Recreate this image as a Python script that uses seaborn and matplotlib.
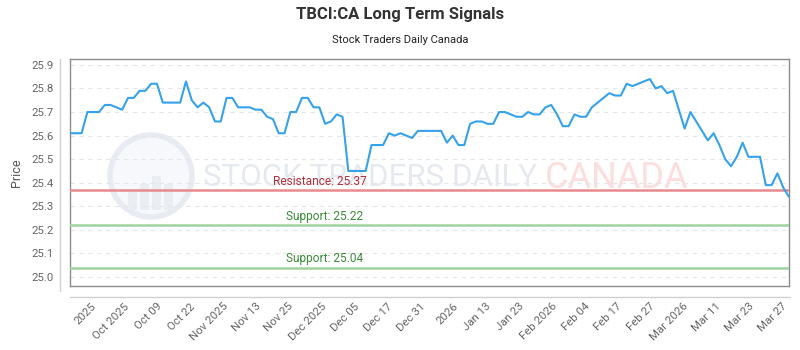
import numpy as np
import pandas as pd
import matplotlib
matplotlib.use("Agg")
import matplotlib.pyplot as plt
import seaborn as sns
from matplotlib import font_manager
from matplotlib.patches import Circle, Rectangle

# ---- data ----
prices = [
    25.61, 25.61, 25.61, 25.70, 25.70, 25.70, 25.73, 25.73, 25.72, 25.71,
    25.76, 25.76, 25.79, 25.79, 25.82, 25.82, 25.74, 25.74, 25.74, 25.74,
    25.83, 25.75, 25.72, 25.74, 25.72, 25.66, 25.66, 25.76, 25.76, 25.72,
    25.72, 25.72, 25.71, 25.71, 25.68, 25.67, 25.61, 25.61, 25.70, 25.70,
    25.76, 25.76, 25.72, 25.72, 25.65, 25.66, 25.69, 25.68, 25.45, 25.45,
    25.45, 25.45, 25.56, 25.56, 25.56, 25.61, 25.60, 25.61, 25.60, 25.59,
    25.62, 25.62, 25.62, 25.62, 25.62, 25.57, 25.60, 25.56, 25.56, 25.65,
    25.66, 25.66, 25.65, 25.65, 25.70, 25.70, 25.69, 25.68, 25.68, 25.70,
    25.69, 25.69, 25.72, 25.73, 25.69, 25.64, 25.64, 25.69, 25.68, 25.68,
    25.72, 25.74, 25.76, 25.78, 25.77, 25.77, 25.82, 25.81, 25.82, 25.83,
    25.84, 25.80, 25.81, 25.78, 25.79, 25.71, 25.63, 25.70, 25.66, 25.62,
    25.58, 25.61, 25.56, 25.50, 25.47, 25.51, 25.57, 25.51, 25.51, 25.51,
    25.39, 25.39, 25.44, 25.38, 25.34,
]
tick_labels = ["2025", "Oct 2025", "Oct 09", "Oct 22", "Nov 2025", "Nov 13",
               "Nov 25", "Dec 2025", "Dec 05", "Dec 17", "Dec 31", "2026",
               "Jan 13", "Jan 23", "Feb 2026", "Feb 04", "Feb 17", "Feb 27",
               "Mar 2026", "Mar 11", "Mar 23", "Mar 27"]
resistance = [25.37]
supports = [25.22, 25.04]
y_ticks = [25.0, 25.1, 25.2, 25.3, 25.4, 25.5, 25.6, 25.7, 25.8, 25.9]

df = pd.DataFrame({"idx": np.arange(len(prices)), "price": prices})

sns.set_theme(style="white")
installed = {f.name for f in font_manager.fontManager.ttflist}
base_font = "Roboto" if "Roboto" in installed else "DejaVu Sans"
plt.rcParams["font.family"] = [base_font, "DejaVu Sans"]

fig = plt.figure(figsize=(8, 3.5), dpi=100)
ax = fig.add_axes([70 / 800, 1 - 286 / 350, 719 / 800, 227 / 350])

n = len(prices)
ax.set_xlim(0, n - 1)
ax.set_ylim(24.962, 25.925)

# watermark
ax.text(0.185, 0.476, "STOCK TRADERS DAILY", transform=ax.transAxes,
        fontsize=22.5, color="#e6eaf0", ha="left", va="center", zorder=0)
ax.text(0.661, 0.476, "CANADA", transform=ax.transAxes,
        fontsize=26, color="#fcdede", ha="left", va="center", zorder=0)
logo = Circle((151, 350 - 176), 41, transform=None, facecolor="#f6f8fb",
              edgecolor="#e8ecf2", linewidth=4, zorder=0)
ax.add_artist(logo)
for bx, bh in [(128, 18), (140, 26), (152, 34), (164, 26)]:
    ax.add_artist(Rectangle((bx, 350 - 210), 9, bh, transform=None,
                            facecolor="#eaeef3", edgecolor="none", zorder=0))

# grid
for yv in y_ticks:
    ax.axhline(yv, color="#e6e6e6", linewidth=0.8, linestyle=(0, (4, 4)), zorder=1)

sns.lineplot(data=df, x="idx", y="price", ax=ax, color="#36a2eb",
             linewidth=1.5, zorder=4)

for r in resistance:
    ax.axhline(r, color="#e88a8e", linewidth=1.8, zorder=3)
    ax.text(0.348, r + 0.036, f"Resistance: {r:.2f}", transform=ax.get_yaxis_transform(),
            ha="center", va="center", color="#b0303a", fontsize=8.6, zorder=5)
for s in supports:
    ax.axhline(s, color="#9ed49e", linewidth=1.8, zorder=3)
    ax.text(0.354, s + 0.038, f"Support: {s:.2f}", transform=ax.get_yaxis_transform(),
            ha="center", va="center", color="#3b8a3b", fontsize=8.6, zorder=5)

# axes styling
ax.set_yticks(y_ticks)
ax.set_yticklabels([f"{v:.1f}" for v in y_ticks])
ax.set_xticks(np.linspace(3.6, n - 2.3, len(tick_labels)))
ax.set_xticklabels(tick_labels, rotation=45, ha="right", rotation_mode="anchor")
ax.tick_params(axis="both", length=0, labelsize=8.2, labelcolor="#666666")
ax.tick_params(axis="y", pad=12)
ax.tick_params(axis="x", pad=11)
ax.set_xlabel("")
ax.set_ylabel("Price", fontsize=9, color="#555555", labelpad=6)

for sp in ax.spines.values():
    sp.set_visible(True)
    sp.set_color("#8c8c8c")
    sp.set_linewidth(1.0)

# offset axis lines
fig.add_artist(plt.Line2D([60 / 800, 60 / 800], [1 - 59 / 350, 1 - 291 / 350],
                          color="#d0d0d0", linewidth=1.0))
fig.add_artist(plt.Line2D([70 / 800, 790 / 800], [1 - 297 / 350, 1 - 297 / 350],
                          color="#d0d0d0", linewidth=1.0))

fig.text(0.5, 1 - 15 / 350, "TBCI:CA Long Term Signals", ha="center", va="center",
         fontsize=12, fontweight="bold", color="#333333")
fig.text(0.5, 1 - 40 / 350, "Stock Traders Daily Canada", ha="center", va="center",
         fontsize=8, color="#222222")

fig.savefig("out.png", dpi=100)
